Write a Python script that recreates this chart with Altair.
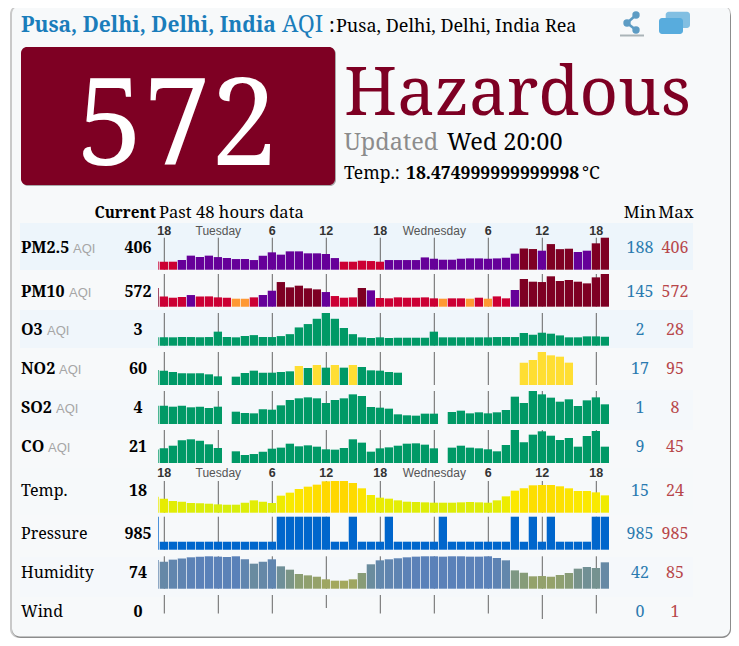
import altair as alt
import pandas as pd

# ---------- values (index -1 is the clipped sliver at the left edge) ----------
PM25 = [190, 188,188,203,243,230,243,230,221,212,212, 203,243,273,252,282,282,264,264,258,221,
        188,188,197,194,188,203,203,203,203,227, 215,206,206,215,218,218,215,218,224,261,
        309,303,288,348,302,306,276,288,355,406]
PM10 = [330, 185,162,174,208,185,185,168,162,145,145, 168,208,283,433,341,370,324,306,260,191,
        162,168,330,289,157,151,168,162,162,168, 151,145,151,151,145,162,145,185,151,295,
        485,439,433,532,451,468,439,410,514,572]
O3 = [2.7, 2.7,2.7,3,3,2.7,3,8.6,3,2.7,4, 5,3,3,4,6,13,16.5,22,28,22,
      12.4,6,2.7,2,2.7,2,2.3,2.3,2.3,2.3, 8.6,2.7,2.7,2.7,2.7,2.7,2.7,3,3,3,
      7.2,5.4,7.5,6.5,4.7,2.7,2.7,3.7,3.7,3.3]
NO2 = [38, 36,31.7,27.5,27.5,27.5,24.4,18,None,17,28.6, 36,29.6,29.6,31.7,33.9,50.7,44.4,53.9,45.5,53.9,
       45.5,53.9,47.6,37,36,31.7,29.6,None,None,None, None,None,None,None,None,None,None,None,None,None,
       61.3,69.7,95,84.4,80.2,61.3,None,None,None,None]
SO2 = [3.8, 3.84,3.55,3.84,3.37,3.55,3.18,3.55,None,2.13,1.76, 1.66,2.8,2.7,3.93,5.45,5.92,6.2,5.92,4.6,5.45,
       5.92,7.05,6.58,3.46,3.27,2.99,1.38,1.1,1,1.57, 1.57,None,2.04,2.42,1.66,1.95,1.66,1.95,2.61,6.39,
       4.6,8,7.05,6.11,4.97,5.64,3.74,5.35,6.2,4.22]
CO = [17, 18.6,22.4,30.1,31.6,29.6,24.4,19.1,None,14.3,9, 10.4,13.8,18.1,19.6,25.3,21.5,22.9,21,17.2,16.7,
      19.1,31.6,26.8,13.8,18.6,20,22.4,25.3,25.8,23.9, 18.6,None,19.6,22.4,19.6,18.6,17.2,14.3,23.4,45,
      27.2,38.3,43.1,36.8,30.6,33.5,21,36.4,43.6,21]
TEMP = [18.05, 17.29,16.4,16.14,15.64,15.51,15.38,15.13,15,15,15.76, 16.65,16.14,15.64,18.43,19.57,20.96,21.85,22.61,23.88,24,
        24,23.25,21.22,18.68,17.67,17.29,16.65,16.14,16.02,15.89, 15.76,15.76,15.76,15.89,16.02,15.89,15.76,16.65,18.17,20.33,
        21.22,22.36,22.48,22.48,21.98,21.22,20.2,20.2,19.69,18.55]
L, H = 985.0, 985.4
PRESSURE = [H, L,L,L,L,L,L,L,L,L,L, L,L,L,H,H,H,H,H,H,L,
            L,H,L,L,L,H,L,L,L,L, L,H,L,L,L,L,L,L,L,H,
            L,H,L,H,L,L,L,L,H,H]
HUMIDITY = [78.5, 75.6,79.1,80.9,83.2,84.4,85,84.4,83.8,85,79.7, 72,75.6,79.7,67.3,61.4,53.8,51.4,49,44.4,42,
            42,44.4,55.5,70.9,77.9,79.7,81.5,83.2,84.4,85, 85,84.4,85,85,84.4,84.4,85,82,77.9,60.2,
            56.1,49.7,50.2,49,52,55.5,63.2,66.1,64.4,74.4]

TICK_I = [0, 6, 12, 18, 24, 30, 36, 42, 48]
TICK_LABELS = ["18", "Tuesday", "6", "12", "18", "Wednesday", "6", "12", "18"]

ROW_NAMES = ["PM2.5", "PM10", "O3", "NO2", "SO2", "CO", "Temp.", "Pressure", "Humidity", "Wind"]
CURRENT = ["406", "572", "3", "60", "4", "21", "18", "985", "74", "0"]
MINS = ["188", "145", "2", "17", "1", "9", "15", "985", "42", "0"]
MAXS = ["406", "572", "28", "95", "8", "45", "24", "985", "85", "1"]
ROW_BASELINE = [253, 297, 335, 374, 413, 452, 496, 539, 578, 617]
AQI_X = [73, 69, 47, 59, 56, 48]

SERIF = "Noto Serif, DejaVu Serif"
SANS = "Liberation Sans"
AQI_COL = alt.Scale(type="threshold", domain=[50, 100, 150, 200, 300],
                    range=["#009966", "#ffde33", "#ff9933", "#cc0033", "#660099", "#7e0023"])
TEMP_COL = alt.Scale(domain=[15, 18, 20, 24], range=["#d8ee0a", "#ecec00", "#fbe900", "#ffd700"], interpolate="rgb")
HUM_COL = alt.Scale(domain=[42, 54, 67, 85], range=["#a3a85e", "#8b9e73", "#6f8f97", "#5a81b9"], interpolate="rgb")

XS = alt.Scale(domain=[-0.667, 49.41], range=[158.3 - 8, 609 - 8], clamp=True)
BLANK = alt.Data(values=[{}])


def V(p):
    return alt.value(p - 8)


def box(x0, y0, x1, y1, color, radius=0, **kw):
    return alt.Chart(BLANK).mark_rect(color=color, cornerRadius=radius, **kw).encode(
        x=V(x0), x2=V(x1), y=V(y0), y2=V(y1))


def txt(s, x, y, size, color="#000000", weight="normal", align="left", font=SERIF):
    return alt.Chart(BLANK).mark_text(text=s, font=font, fontSize=size, color=color, fontWeight=weight,
                                      align=align, baseline="alphabetic").encode(x=V(x), y=V(y))


def line(x0, y0, x1, y1, color, w):
    return alt.Chart(BLANK).mark_rule(color=color, strokeWidth=w).encode(
        x=V(x0), x2=V(x1), y=V(y0), y2=V(y1))


def dot(x, y, size, color):
    return alt.Chart(BLANK).mark_point(filled=True, opacity=1, color=color, size=size, shape="circle").encode(
        x=V(x), y=V(y))


def ticks(top, bottom, idx=TICK_I):
    d = pd.DataFrame({"i": idx})
    return alt.Chart(d).mark_rule(color="#666666", strokeWidth=1).encode(
        x=alt.X("i:Q", scale=XS, axis=None), y=V(top), y2=V(bottom))


def bars(values, v0, vmax, base, top, color):
    d = pd.DataFrame({"i": range(-1, 50), "v": values}).dropna()
    ch = alt.Chart(d).transform_calculate(x0="datum.i-0.51", x1="datum.i+0.41").mark_rect()
    enc = dict(
        x=alt.X("x0:Q", scale=XS, axis=None),
        x2="x1:Q",
        y=alt.Y("v:Q", scale=alt.Scale(domain=[v0, vmax], range=[base - 8, top - 8]), axis=None),
        y2=V(base),
    )
    if isinstance(color, str):
        enc["color"] = alt.value(color)
    else:
        enc["color"] = alt.Color("v:Q", scale=color, legend=None)
    return ch.encode(**enc)


def tick_labels(y):
    d = pd.DataFrame({"i": TICK_I, "t": TICK_LABELS})
    num = d[~d.t.str.endswith("day")]
    day = d[d.t.str.endswith("day")]
    a = alt.Chart(num).mark_text(font=SANS, fontSize=12.5, fontWeight="bold", color="#333333",
                                 baseline="alphabetic").encode(
        x=alt.X("i:Q", scale=XS, axis=None), y=V(y), text="t:N")
    b = alt.Chart(day).mark_text(font=SANS, fontSize=12, color="#555555",
                                 baseline="alphabetic").encode(
        x=alt.X("i:Q", scale=XS, axis=None), y=V(y), text="t:N")
    return [a, b]


layers = [
    # card
    box(10, 5, 731, 638, "#c9c9c9", 9),
    box(12, 8, 731, 638, "#8c8c8c", 9),
    box(12, 6, 730, 636.5, "#f7f9fa", 8),
    # alternating row bands
    box(20, 223, 693, 270, "#edf5fb"),
    box(20, 310, 693, 348, "#f0f6fb"),
    box(20, 390, 693, 430, "#f4f8fb"),
    box(20, 468, 693, 515, "#f6f9fa"),
    box(20, 557, 693, 597, "#f5f8fb"),
    # header
    txt("Pusa, Delhi, Delhi, India", 21, 32, 21, "#1a7dbb", "bold"),
    txt("AQI", 282, 32, 23, "#1a7dbb"),
    txt(":", 329, 32, 20, "#000000"),
    txt("Pusa, Delhi, Delhi, India Rea", 336, 32, 18),
    # share and windows icons
    line(620, 35.5, 644, 35.5, "#aab4b8", 2),
    line(636, 15, 627, 23, "#5d9cc4", 2.5),
    line(627, 23, 636, 30, "#5d9cc4", 2.5),
    dot(636, 15, 55, "#5d9cc4"),
    dot(627, 23, 55, "#5d9cc4"),
    dot(636, 30, 55, "#5d9cc4"),
    box(665.7, 11.7, 690, 28, "#82bfe2", 3),
    box(659, 18, 683, 34, "#58acdd", 3),
    # AQI block
    box(22, 48, 336, 186, "#a9a9a9", 6),
    box(21, 47, 335, 185, "#7e0023", 6),
    txt("572", 177, 165, 120, "#ffffff", align="center"),
    txt("Hazardous", 344, 115, 67, "#7e0023"),
    txt("Updated", 344, 150, 23.5, "#8c8c8c"),
    txt("Wed 20:00", 447, 150, 23.5),
    txt("Temp.:", 344, 179, 17.5),
    txt("18.474999999999998", 406, 179, 17.5, weight="bold"),
    txt("°C", 582, 179, 17.5),
    # table header
    txt("Current", 156, 218, 15.3, weight="bold", align="right"),
    txt("Past 48 hours data", 159, 218, 16.6),
    txt("Min", 640, 218, 17, align="center"),
    txt("Max", 676, 218, 17, align="center"),
]

for i, name in enumerate(ROW_NAMES):
    y = ROW_BASELINE[i]
    layers.append(txt(name, 21, y, 16, weight="bold" if i < 6 else "normal"))
    if i < 6:
        layers.append(txt("AQI", AQI_X[i], y, 13, "#a6a6a6", font=SANS))
    layers.append(txt(CURRENT[i], 138, y, 16, weight="bold", align="center"))
    layers.append(txt(MINS[i], 640, y, 16, "#2b7bb0", align="center"))
    layers.append(txt(MAXS[i], 675, y, 16, "#b8474a", align="center"))

ROWS = [
    (PM25, 115.3, 406, 269.7, 237.7, AQI_COL),
    (PM10, 6.5, 572, 306.7, 274, AQI_COL),
    (O3, -6, 28, 345.7, 313, AQI_COL),
    (NO2, -9.35, 95, 385, 352, AQI_COL),
    (SO2, -1.365, 8, 424, 391, AQI_COL),
    (CO, -2.52, 45, 463, 430, AQI_COL),
    (TEMP, 11.96, 24, 512.7, 481, TEMP_COL),
    (PRESSURE, 984.872, 985.4, 549.7, 516.7, "#0066cc"),
    (HUMIDITY, 27.86, 85, 588.7, 556.3, HUM_COL),
]
for vals, v0, vmax, base, top, col in ROWS:
    layers.append(ticks(top, base))
    layers.append(bars(vals, v0, vmax, base, top, col))

layers.append(ticks(595, 613.5, [0, 6, 12, 24, 30, 36, 48]))
layers.append(ticks(595, 608, [18]))
layers.append(ticks(595, 619, [42]))
layers += tick_labels(235)
layers += tick_labels(477)

chart = (
    alt.layer(*layers)
    .resolve_scale(y="independent", color="independent")
    .properties(width=723, height=630, padding=0, autosize=alt.AutoSizeParams(type="none"), background="#ffffff")
    .configure_view(strokeWidth=0)
)
chart.save("out.html", embed_options={"renderer": "svg", "actions": False})
